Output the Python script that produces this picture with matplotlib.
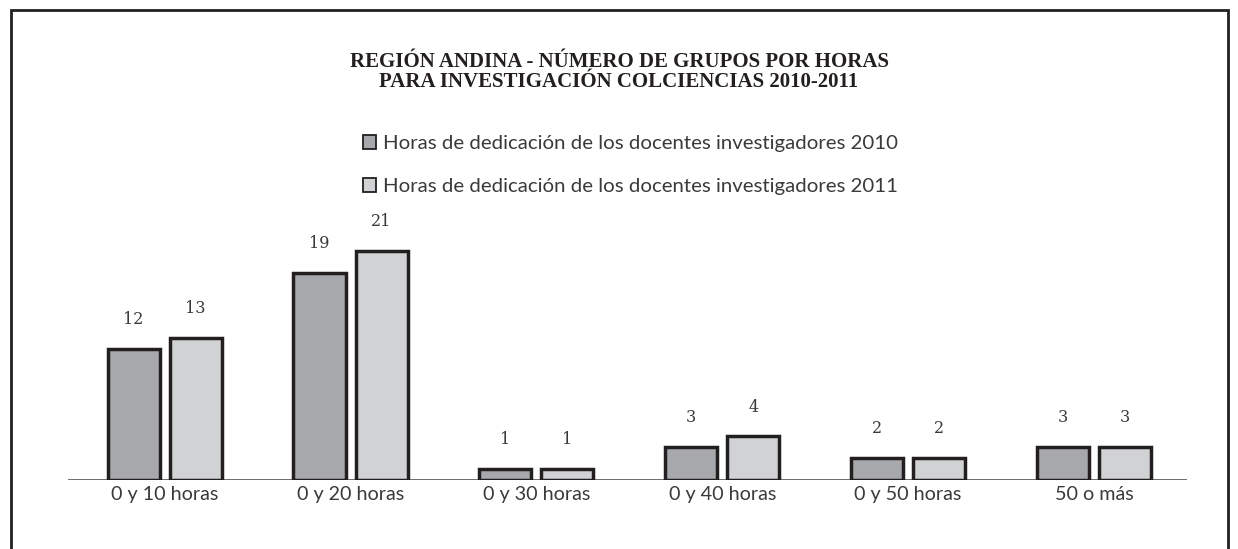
import numpy as np
import matplotlib.pyplot as plt
from matplotlib.patches import Rectangle

categories = ["0 y 10 horas", "0 y 20 horas", "0 y 30 horas",
              "0 y 40 horas", "0 y 50 horas", "50 o más"]
horas_2010 = [12, 19, 1, 3, 2, 3]
horas_2011 = [13, 21, 1, 4, 2, 3]
series_names = ["Horas de dedicación de los docentes investigadores 2010",
                "Horas de dedicación de los docentes investigadores 2011"]
title = "REGIÓN ANDINA - NÚMERO DE GRUPOS POR HORAS\nPARA INVESTIGACIÓN COLCIENCIAS 2010-2011"

dark = "#a7a8ab"
light = "#d1d2d4"
edge = "#231f20"
text_col = "#3a3a3a"

fig = plt.figure(figsize=(12.38, 5.49), dpi=100)
ax = fig.add_axes([68 / 1238, 69 / 549, 1119 / 1238, 240 / 549])

x = np.arange(len(categories))
w = 0.28
off = 0.167
b1 = ax.bar(x - off, horas_2010, w, color=dark, edgecolor=edge, linewidth=2.5,
            label=series_names[0])
b2 = ax.bar(x + off, horas_2011, w, color=light, edgecolor=edge, linewidth=2.5,
            label=series_names[1])

for bars, vals in ((b1, horas_2010), (b2, horas_2011)):
    for r, v in zip(bars, vals):
        ax.annotate(str(v), (r.get_x() + r.get_width() / 2, v),
                    xytext=(0, 15), textcoords="offset points",
                    ha="center", va="bottom", fontsize=11.5,
                    family="DejaVu Serif", color=text_col)

ax.set_xlim(-0.52, 5.5)
ax.set_ylim(0, 22)
ax.axhline(0, color="#555555", lw=1.2, zorder=0)
for s in ax.spines.values():
    s.set_visible(False)
ax.set_yticks([])
ax.set_xticks(x)
ax.set_xticklabels(categories, family="Lato", fontsize=14.2, color=text_col)
ax.tick_params(axis="x", length=0, pad=4)

fig.text(0.5, 1 - 72 / 549, title, ha="center", va="center",
         family="Liberation Serif", fontweight="bold", fontsize=15,
         color=edge, linespacing=1.0)

leg = fig.legend(handles=[b1, b2], loc="upper left",
                 bbox_to_anchor=(345 / 1238, 1 - 117 / 549),
                 frameon=False, handlelength=0.64, handleheight=0.64,
                 handletextpad=0.34, labelspacing=1.27,
                 prop={"family": "Lato", "size": 14.7})
for t in leg.get_texts():
    t.set_color(text_col)
for p in leg.get_patches():
    p.set_linewidth(1.3)

fig.patches.append(Rectangle((11 / 1238, -0.1), 1217 / 1238, 1.1 - 10 / 549,
                             transform=fig.transFigure, fill=False,
                             edgecolor=edge, lw=2))

fig.savefig("out.png", dpi=100)
